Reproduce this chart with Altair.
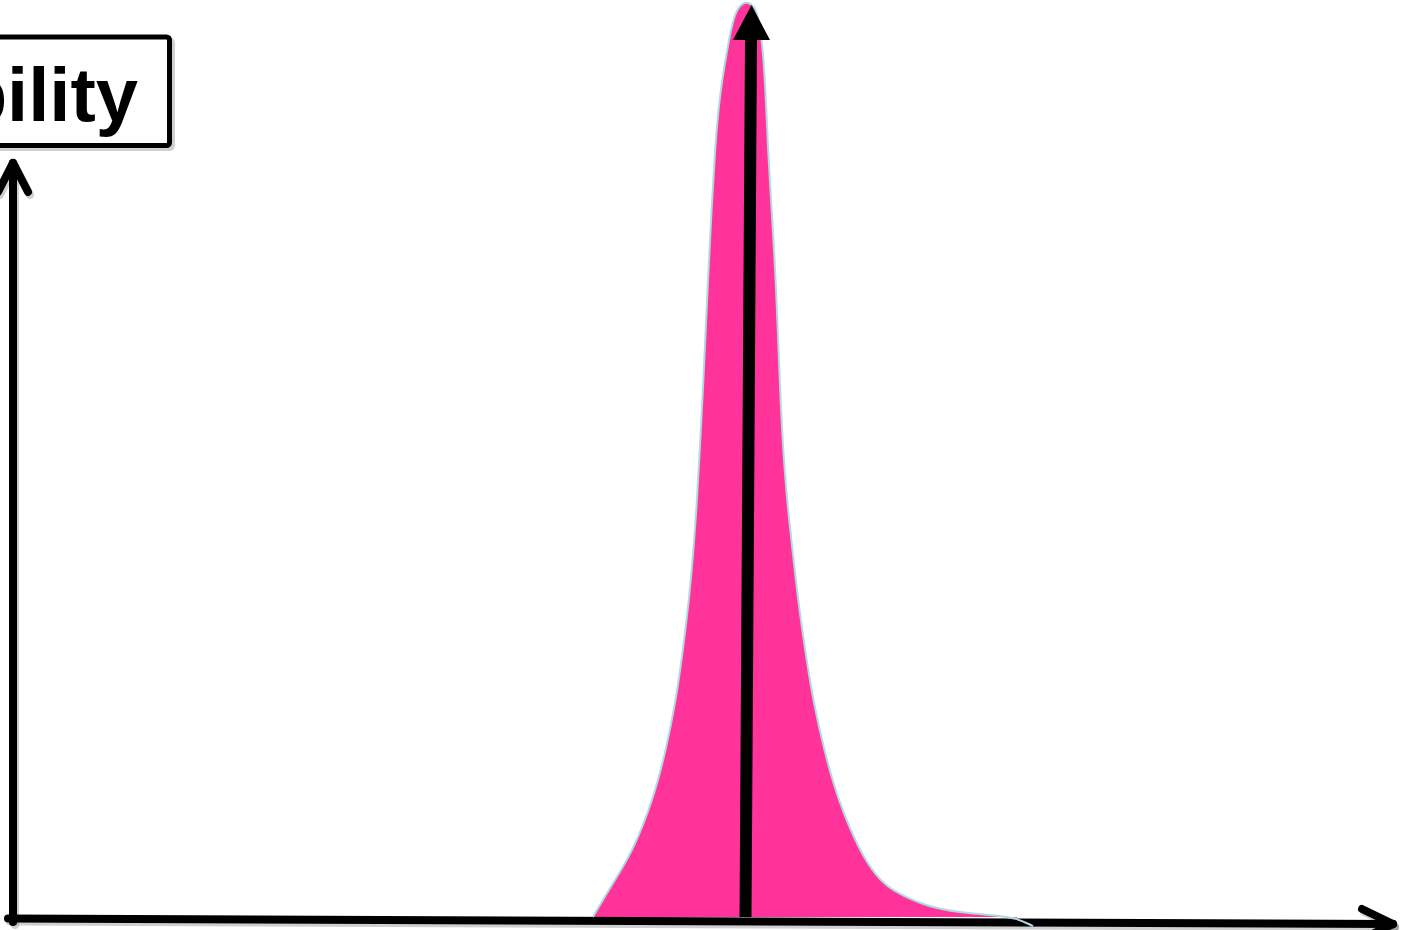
import altair as alt
import pandas as pd

# Density curve: rising flank (left of the peak) and the long right tail
left_x = [-1.54, -1.44, -1.29, -1.14, -0.94, -0.81, -0.71, -0.64, -0.58, -0.535, -0.50,
          -0.47, -0.44, -0.40, -0.35, -0.32, -0.28, -0.20, -0.14, -0.09, -0.04, 0.00]
left_d = [0.000, 0.019, 0.046, 0.073, 0.128, 0.183, 0.238, 0.293, 0.348, 0.402, 0.457,
          0.517, 0.578, 0.677, 0.786, 0.841, 0.896, 0.951, 0.984, 0.997, 1.002, 1.003]
right_x = [0.04, 0.08, 0.12, 0.16, 0.19, 0.21, 0.24, 0.29, 0.33, 0.36, 0.40, 0.455, 0.51,
           0.58, 0.66, 0.77, 0.91, 1.13, 1.30, 1.43, 1.80, 2.13, 2.46, 2.70, 2.86]
right_d = [1.001, 0.997, 0.984, 0.951, 0.896, 0.841, 0.786, 0.698, 0.578, 0.513, 0.457, 0.402, 0.348,
           0.293, 0.238, 0.183, 0.128, 0.071, 0.044, 0.030, 0.011, 0.005, 0.002, -0.001, -0.010]

# Hand-drawn axes: shaft and arrow-head strokes (x, d) -> (x2, d2)
seg_name = ["x_axis", "x_head_up", "x_head_dn", "y_axis", "y_head_r", "y_head_l"]
seg_x = [-7.39, 6.15, 6.15, -7.34, -7.19, -7.49]
seg_d = [-0.0016, 0.0088, -0.0241, -0.0055, 0.795, 0.795]
seg_x2 = [6.46, 6.46, 6.46, -7.34, -7.34, -7.34]
seg_d2 = [-0.0077, -0.0077, -0.0077, 0.8268, 0.8268, 0.8268]

# Vertical marker arrow at the peak
marker_x = [-0.015]
marker_d = [0.0]
marker_x2 = [0.04]
marker_d2 = [0.9616]
marker_tip_x = [0.045]
marker_tip_d = [0.9808]

# Axis label box
label_text = ["Probability"]
label_x = [-6.09]
label_d = [0.8728]
box_x = [-10.47]
box_x2 = [-5.775]
box_d = [0.9649]
box_d2 = [0.8459]

curve = pd.DataFrame({"x": left_x + right_x, "d": left_d + right_d})
fill_df = curve[curve["d"] >= -0.002]
segs = pd.DataFrame({"name": seg_name, "x": seg_x, "d": seg_d, "x2": seg_x2, "d2": seg_d2})
marker = pd.DataFrame({"x": marker_x, "d": marker_d, "x2": marker_x2, "d2": marker_d2})
tip = pd.DataFrame({"x": marker_tip_x, "d": marker_tip_d})
label = pd.DataFrame({"t": label_text, "x": label_x, "d": label_d})
box = pd.DataFrame({"x": box_x, "x2": box_x2, "d": box_d, "d2": box_d2})

xs = alt.Scale(domain=[-7.47, 6.65], nice=False, zero=False)
ys = alt.Scale(domain=[-0.01425, 1.00548], nice=False, zero=False)

X = lambda f="x": alt.X(f, type="quantitative", scale=xs, axis=None)
Y = lambda f="d": alt.Y(f, type="quantitative", scale=ys, axis=None)

area = alt.Chart(fill_df).mark_area(color="#FF3399", interpolate="basis").encode(
    x=X(), y=Y(), y2=alt.datum(0)
)
outline = alt.Chart(curve).mark_line(
    color="#aedbe2", strokeWidth=2, interpolate="basis"
).encode(x=X(), y=Y())

seg_shadow = alt.Chart(segs).mark_rule(
    color="#888888", opacity=0.4, strokeWidth=8, strokeCap="round",
    xOffset=2, yOffset=3, x2Offset=2, y2Offset=3
).encode(x=X(), y=Y(), x2="x2", y2="d2")
seg_rules = alt.Chart(segs).mark_rule(
    color="black", strokeWidth=8, strokeCap="round"
).encode(x=X(), y=Y(), x2="x2", y2="d2")

shaft = alt.Chart(marker).mark_rule(color="black", strokeWidth=12).encode(
    x=X(), y=Y(), x2="x2", y2="d2"
)
head = alt.Chart(tip).mark_point(
    shape="M-1,0.95L0,-0.95L1,0.95Z", size=1369, filled=True, fill="black",
    opacity=1
).encode(x=X(), y=Y())

box_shadow = alt.Chart(box).mark_rect(
    fill="#999999", stroke="#999999", strokeWidth=5, opacity=0.45,
    xOffset=3, yOffset=3, x2Offset=3, y2Offset=3, cornerRadius=3
).encode(x=X(), x2="x2", y=Y(), y2="d2")
box_rect = alt.Chart(box).mark_rect(
    fill="white", stroke="black", strokeWidth=5, cornerRadius=3
).encode(x=X(), x2="x2", y=Y(), y2="d2")
label_txt = alt.Chart(label).mark_text(
    font="Liberation Sans", fontWeight="bold", fontSize=76, align="right",
    baseline="alphabetic", color="black"
).encode(x=X(), y=Y(), text="t")

chart = alt.layer(
    area, seg_shadow, seg_rules, outline, shaft, head, box_shadow, box_rect, label_txt
).properties(
    width=1412, height=930, autosize=alt.AutoSizeParams(type="none"), padding=0,
    background="white"
).configure_view(stroke=None)

chart.save("out.html", embed_options={"renderer": "svg", "actions": False})
